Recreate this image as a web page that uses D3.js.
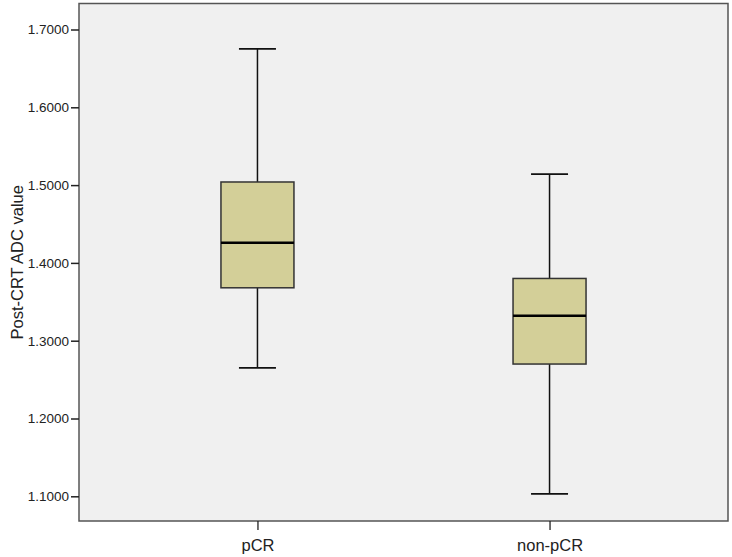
<!doctype html>
<html>
<head>
    <meta charset="UTF-8">
    <title>Post-CRT ADC boxplot</title>
    <script src="https://d3js.org/d3.v7.min.js"></script>
    <style>
        body { margin: 0; background: #fff; }
        text { font-family: "Liberation Sans", Arial, sans-serif; fill: #222; }
    </style>
</head>
<body>
    <script>
        // groups and box statistics
        var groups = ["pCR", "non-pCR"];
        var whiskerLow  = [1.265, 1.103];
        var q1          = [1.368, 1.270];
        var median      = [1.426, 1.332];
        var q3          = [1.504, 1.380];
        var whiskerHigh = [1.675, 1.514];
        var yTicks = [1.1, 1.2, 1.3, 1.4, 1.5, 1.6, 1.7];

        var w = 732, h = 557;
        var plotL = 79, plotR = 728, plotT = 3.5, plotB = 521;

        var svg = d3.select("body").append("svg")
            .attr("width", w)
            .attr("height", h);

        var x = d3.scalePoint()
            .domain(groups)
            .range([plotL, plotR])
            .padding(0.611);

        var y = d3.scaleLinear()
            .domain([1.1, 1.7])
            .range([496.3, 29.5]);

        // plot background + frame
        svg.append("rect")
            .attr("x", plotL).attr("y", plotT)
            .attr("width", plotR - plotL).attr("height", plotB - plotT)
            .attr("fill", "#f0f0f0")
            .attr("stroke", "#555")
            .attr("stroke-width", 1.5);

        // y axis
        var yAxis = d3.axisLeft(y)
            .tickValues(yTicks)
            .tickFormat(d3.format(".4f"))
            .tickSize(8)
            .tickPadding(2);
        var gy = svg.append("g")
            .attr("transform", "translate(" + plotL + ",0)")
            .call(yAxis);
        gy.select(".domain").remove();
        gy.selectAll(".tick line").attr("stroke", "#222").attr("stroke-width", 1.5);
        gy.selectAll(".tick text").attr("font-size", 13.5).attr("fill", "#222");

        // x axis
        var xAxis = d3.axisBottom(x).tickSize(9).tickPadding(9);
        var gx = svg.append("g")
            .attr("transform", "translate(0," + plotB + ")")
            .call(xAxis);
        gx.select(".domain").remove();
        gx.selectAll(".tick line").attr("stroke", "#222").attr("stroke-width", 1.3);
        gx.selectAll(".tick text").attr("font-size", 16.5).attr("fill", "#222");

        // y title
        svg.append("text")
            .attr("transform", "translate(23," + ((plotT + plotB) / 2) + ") rotate(-90)")
            .attr("text-anchor", "middle")
            .attr("font-size", 16.5)
            .text("Post-CRT ADC value");

        var boxW = 73, capW = 37;

        var box = svg.selectAll("g.box")
            .data(groups)
            .enter().append("g")
            .attr("class", "box");

        // whiskers
        box.append("line")
            .attr("x1", function(d) { return x(d); })
            .attr("x2", function(d) { return x(d); })
            .attr("y1", function(d, i) { return y(whiskerHigh[i]); })
            .attr("y2", function(d, i) { return y(q3[i]); })
            .attr("stroke", "#111").attr("stroke-width", 1.5);
        box.append("line")
            .attr("x1", function(d) { return x(d); })
            .attr("x2", function(d) { return x(d); })
            .attr("y1", function(d, i) { return y(q1[i]); })
            .attr("y2", function(d, i) { return y(whiskerLow[i]); })
            .attr("stroke", "#111").attr("stroke-width", 1.5);

        // caps
        box.append("line")
            .attr("x1", function(d) { return x(d) - capW / 2; })
            .attr("x2", function(d) { return x(d) + capW / 2; })
            .attr("y1", function(d, i) { return y(whiskerHigh[i]); })
            .attr("y2", function(d, i) { return y(whiskerHigh[i]); })
            .attr("stroke", "#111").attr("stroke-width", 1.8);
        box.append("line")
            .attr("x1", function(d) { return x(d) - capW / 2; })
            .attr("x2", function(d) { return x(d) + capW / 2; })
            .attr("y1", function(d, i) { return y(whiskerLow[i]); })
            .attr("y2", function(d, i) { return y(whiskerLow[i]); })
            .attr("stroke", "#111").attr("stroke-width", 1.8);

        // boxes
        box.append("rect")
            .attr("x", function(d) { return x(d) - boxW / 2; })
            .attr("y", function(d, i) { return y(q3[i]); })
            .attr("width", boxW)
            .attr("height", function(d, i) { return y(q1[i]) - y(q3[i]); })
            .attr("fill", "#d3cf98")
            .attr("stroke", "#333")
            .attr("stroke-width", 1.5);

        // medians
        box.append("line")
            .attr("x1", function(d) { return x(d) - boxW / 2; })
            .attr("x2", function(d) { return x(d) + boxW / 2; })
            .attr("y1", function(d, i) { return y(median[i]); })
            .attr("y2", function(d, i) { return y(median[i]); })
            .attr("stroke", "#000").attr("stroke-width", 2.5);
    </script>
</body>
</html>
